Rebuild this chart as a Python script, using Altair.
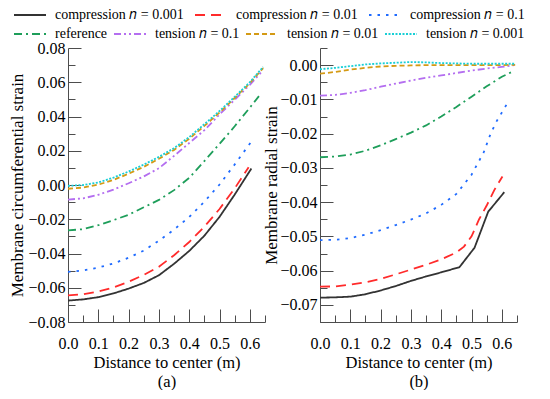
import altair as alt
import pandas as pd

# ---------------- data ----------------
LABELS = ["compression 𝑛 = 0.001", "compression 𝑛 = 0.01", "compression 𝑛 = 0.1",
          "reference", "tension 𝑛 = 0.1", "tension 𝑛 = 0.01", "tension 𝑛 = 0.001"]
COLORS = ["#333333", "#FF2B2B", "#1F6BFF", "#1E9E5A", "#B46EF0", "#D49A14", "#18CFD6"]
DASHES = [[1, 0], [10, 6], [2.5, 6], [8, 4, 2, 4], [7, 3, 2, 3, 2, 3], [5, 3], [2, 1.5]]

GRID = [0.0, 0.05, 0.1, 0.15, 0.2, 0.25, 0.3, 0.35, 0.4, 0.45, 0.5, 0.55, 0.6]

A_X = [
    GRID[:12] + [0.605],
    GRID[:12] + [0.596],
    GRID[:12] + [0.611],
    GRID + [0.63],
    GRID + [0.641],
    GRID + [0.644],
    GRID + [0.644],
]
A_Y = [
    [-0.0675, -0.0668, -0.0655, -0.0633, -0.0605, -0.0572, -0.0527, -0.0460, -0.0385, -0.0296, -0.0186, -0.0056, 0.0096],
    [-0.0645, -0.0638, -0.0622, -0.0598, -0.0565, -0.0525, -0.0477, -0.0410, -0.0333, -0.0243, -0.0140, -0.0020, 0.0104],
    [-0.0507, -0.0499, -0.0482, -0.0458, -0.0425, -0.0383, -0.0325, -0.0260, -0.0187, -0.0097, 0.0003, 0.0120, 0.0268],
    [-0.0265, -0.0258, -0.0235, -0.0205, -0.0174, -0.0130, -0.0087, -0.0030, 0.0042, 0.0140, 0.0240, 0.0343, 0.0452, 0.0519],
    [-0.0085, -0.0078, -0.0057, -0.0027, 0.0010, 0.0050, 0.0098, 0.0170, 0.0245, 0.0320, 0.0412, 0.0498, 0.0585, 0.0665],
    [-0.0022, -0.0015, 0.0002, 0.0030, 0.0066, 0.0106, 0.0153, 0.0205, 0.0270, 0.0345, 0.0423, 0.0508, 0.0595, 0.0683],
    [-0.0005, 0.0000, 0.0015, 0.0043, 0.0079, 0.0119, 0.0164, 0.0215, 0.0280, 0.0355, 0.0432, 0.0515, 0.0600, 0.0690],
]

B_X = [
    [0.0, 0.05, 0.1, 0.15, 0.2, 0.25, 0.3, 0.35, 0.4, 0.46, 0.51, 0.555, 0.608],
    [0.0, 0.05, 0.1, 0.15, 0.2, 0.25, 0.3, 0.35, 0.4, 0.45, 0.475, 0.5, 0.525, 0.55, 0.575, 0.602],
    [0.0, 0.05, 0.1, 0.15, 0.2, 0.25, 0.3, 0.35, 0.4, 0.45, 0.5, 0.54, 0.56, 0.58, 0.615],
    GRID + [0.637],
    GRID + [0.644],
    GRID + [0.644],
    GRID + [0.644],
]
B_Y = [
    [-0.0679, -0.0678, -0.0676, -0.0669, -0.0658, -0.0645, -0.0630, -0.0617, -0.0605, -0.0590, -0.0533, -0.0428, -0.0371],
    [-0.0647, -0.0646, -0.0641, -0.0634, -0.0624, -0.0611, -0.0597, -0.0583, -0.0567, -0.0547, -0.0530, -0.0500, -0.0450, -0.0410, -0.0365, -0.0325],
    [-0.0511, -0.0510, -0.0505, -0.0495, -0.0482, -0.0467, -0.0451, -0.0433, -0.0408, -0.0376, -0.0320, -0.0255, -0.0207, -0.0168, -0.0116],
    [-0.0269, -0.0267, -0.0261, -0.0250, -0.0234, -0.0216, -0.0197, -0.0176, -0.0150, -0.0122, -0.0092, -0.0062, -0.0034, -0.0018],
    [-0.0089, -0.0087, -0.0081, -0.0073, -0.0063, -0.0054, -0.0045, -0.0037, -0.0030, -0.0023, -0.0016, -0.0010, -0.0005, 0.0000],
    [-0.0025, -0.0020, -0.0013, -0.0008, -0.0004, -0.0002, -0.0001, 0.0000, 0.0000, 0.0000, 0.0000, 0.0000, 0.0000, 0.0001],
    [-0.0012, -0.0008, -0.0003, 0.0002, 0.0005, 0.0007, 0.0009, 0.0008, 0.0006, 0.0005, 0.0004, 0.0004, 0.0004, 0.0004],
]

X_TICKS = [round(0.05 * i, 2) for i in range(14)]
A_TICKS = [round(-0.08 + 0.01 * i, 2) for i in range(17)]
B_TICKS = [round(-0.075 + 0.005 * i, 3) for i in range(17)]


def long_df(xs, ys, idxs):
    rows = []
    for i in idxs:
        for k, (xv, yv) in enumerate(zip(xs[i], ys[i])):
            rows.append({"series": LABELS[i], "x": xv, "y": yv, "k": k})
    return pd.DataFrame(rows)


FONT = "Times New Roman, Liberation Serif, serif"
AXC = "#4d4d4d"
W, H = 197, 274


def make_panel(xs, ys, ydom, yticks, mod, ytitle, letter, legends, ytitle_axis):
    groups = [[0, 1, 2], [3, 4, 5, 6]]
    xscale = alt.Scale(domain=[0, 0.65], nice=False, zero=False)
    yscale = alt.Scale(domain=ydom, nice=False, zero=False)
    x_main = alt.Axis(
        values=X_TICKS, ticks=False,
        labelExpr="abs(round(datum.value*20)) % 2 == 0 ? format(datum.value, '.1f') : ''",
        title=["Distance to center (m)", letter], titleLineHeight=19, titleFontSize=16.5,
        labelFlush=False, labelOverlap=False, labelPadding=13, titlePadding=3, grid=False,
        labelFont=FONT, titleFont=FONT,
    )
    y_main = alt.Axis(
        values=yticks, ticks=False,
        labelExpr=f"abs(round(datum.value*{mod})) % 2 == 0 ? format(datum.value, '.2f') : ''",
        title=ytitle, labelPadding=3, labelOverlap=False, grid=False,
        labelFont=FONT, titleFont=FONT, **ytitle_axis,
    )
    x_ticks = alt.Axis(
        values=X_TICKS, orient="top", offset=-H, labels=False, domain=False, title=None, grid=False,
        minExtent=0, maxExtent=0,
        tickSize={"condition": {"test": "abs(round(datum.value*20)) % 2 == 0", "value": 13}, "value": 7},
    )
    y_ticks = alt.Axis(
        values=yticks, orient="right", offset=-W, labels=False, domain=False, title=None, grid=False,
        minExtent=0, maxExtent=0,
        tickSize={"condition": {"test": f"abs(round(datum.value*{mod})) % 2 == 0", "value": 13}, "value": 7},
    )
    layers = []
    for g, idxs in enumerate(groups):
        df = long_df(xs, ys, idxs)
        dom = [LABELS[i] for i in idxs]
        if legends:
            leg = alt.Legend(
                orient="none", legendX=-45, legendY=-40 + 19 * g, direction="horizontal",
                title=None, labelFont=FONT, labelFontSize=14, labelColor="black",
                symbolType="M-4,0H4", symbolSize=64, symbolStrokeWidth=2,
                labelOffset=18, columnPadding=7 if g == 0 else 2, padding=0, offset=0,
            )
        else:
            leg = None
        layers.append(
            alt.Chart(df).mark_line(strokeWidth=1.8).encode(
                x=alt.X("x:Q", scale=xscale, axis=x_main if g == 0 else x_ticks),
                y=alt.Y("y:Q", scale=yscale, axis=y_main if g == 0 else y_ticks),
                color=alt.Color("series:N", scale=alt.Scale(domain=dom, range=[COLORS[i] for i in idxs]),
                                sort=dom, legend=leg),
                strokeDash=alt.StrokeDash("series:N", scale=alt.Scale(domain=dom, range=[DASHES[i] for i in idxs]),
                                          sort=dom, legend=leg),
                order="k:Q",
            )
        )
    return alt.layer(*layers).resolve_scale(
        color="independent", strokeDash="independent"
    ).resolve_axis(x="independent", y="independent").properties(width=W, height=H)


left = make_panel(A_X, A_Y, [-0.08, 0.08], A_TICKS, 100, "Membrane circumferential strain", "(a)", True,
                  {"titlePadding": 1})
right = make_panel(B_X, B_Y, [-0.075, 0.005], B_TICKS, 200, "Membrane radial strain", "(b)", False,
                   {"titleX": -40})

chart = alt.hconcat(left, right, spacing=55, bounds="flush").resolve_scale(
    color="independent", strokeDash="independent"
).properties(padding=0).configure_view(stroke=None).configure_axis(
    labelFont=FONT, titleFont=FONT, labelFontSize=16, titleFontSize=17,
    titleFontWeight="normal", labelColor="black", titleColor="black",
    domainColor=AXC, tickColor=AXC, domainWidth=1, tickWidth=1,
).configure_legend(labelFont=FONT)

chart.save("out.html", embed_options={"renderer": "svg", "actions": False})
